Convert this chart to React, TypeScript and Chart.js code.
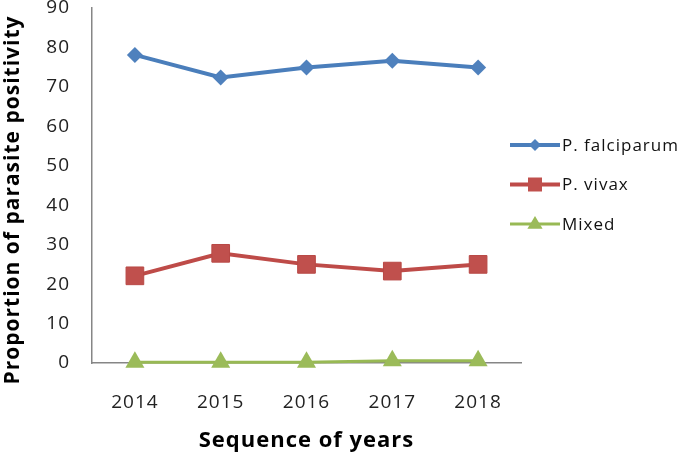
import React, { useEffect, useRef } from "react";
import { Chart, registerables } from "chart.js";

Chart.register(...registerables);

const years = ["2014", "2015", "2016", "2017", "2018"];
const falciparum = [78.1, 72.4, 74.9, 76.6, 74.9];
const vivax = [22.1, 27.8, 25.0, 23.3, 25.0];
const mixed = [0.2, 0.2, 0.2, 0.6, 0.6];
const yTicks = [0, 10, 20, 30, 40, 50, 60, 70, 80, 90];
const xTitle = "Sequence of years";
const yTitle = "Proportion of parasite positivity";

const FONT = "'Open Sans', Lato, sans-serif";

const spacingPlugin = {
  id: "spacing",
  beforeUpdate(chart: any) {
    chart.ctx.letterSpacing = "1px";
  },
  beforeDraw(chart: any) {
    chart.ctx.letterSpacing = "1px";
  },
};

const titlesPlugin = {
  id: "titles",
  afterDraw(chart: any) {
    const ctx = chart.ctx;
    const area = chart.chartArea;
    ctx.save();
    ctx.letterSpacing = "1px";
    ctx.fillStyle = "#000";
    ctx.textAlign = "center";
    ctx.textBaseline = "middle";
    ctx.font = `bold 22px ${FONT}`;
    ctx.fillText(xTitle, (area.left + area.right) / 2, 441);
    ctx.translate(13, 200);
    ctx.rotate(-Math.PI / 2);
    ctx.font = `bold 21px ${FONT}`;
    ctx.fillText(yTitle, 0, 0);
    ctx.restore();
  },
};

const legendPlugin = {
  id: "customLegend",
  afterDraw(chart: any) {
    const ctx = chart.ctx;
    const x0 = 510;
    const yStart = 145;
    const gap = 39.5;
    ctx.save();
    ctx.letterSpacing = "1px";
    chart.data.datasets.forEach((ds: any, i: number) => {
      const y = yStart + i * gap;
      ctx.strokeStyle = ds.borderColor;
      ctx.lineWidth = ds.borderWidth;
      ctx.beginPath();
      ctx.moveTo(x0, y);
      ctx.lineTo(x0 + 50, y);
      ctx.stroke();
      const r = ds.legendRadius;
      const cx = x0 + 25;
      const cy = y;
      ctx.fillStyle = ds.pointBackgroundColor;
      ctx.beginPath();
      if (ds.pointStyle === "rectRot") {
        ctx.moveTo(cx - r, cy);
        ctx.lineTo(cx, cy - r);
        ctx.lineTo(cx + r, cy);
        ctx.lineTo(cx, cy + r);
      } else if (ds.pointStyle === "rect") {
        ctx.rect(cx - r, cy - r, 2 * r, 2 * r);
      } else {
        ctx.moveTo(cx, cy - r);
        ctx.lineTo(cx + r * 0.95, cy + r * 0.6);
        ctx.lineTo(cx - r * 0.95, cy + r * 0.6);
      }
      ctx.closePath();
      ctx.fill();
      ctx.fillStyle = "#111";
      ctx.font = `17px ${FONT}`;
      ctx.textAlign = "left";
      ctx.textBaseline = "middle";
      ctx.fillText(ds.label, x0 + 52, y + 1);
    });
    ctx.restore();
  },
};

export default function App() {
  const ref = useRef<HTMLCanvasElement | null>(null);
  useEffect(() => {
    if (!ref.current) return;
    const chart = new Chart(ref.current, {
      type: "line",
      data: {
        labels: years,
        datasets: [
          {
            label: "P. falciparum",
            data: falciparum,
            borderColor: "#4A7EBB",
            backgroundColor: "#4A7EBB",
            pointBackgroundColor: "#4F81BD",
            pointBorderColor: "#4A7EBB",
            borderWidth: 4,
            pointStyle: "rectRot",
            pointRadius: 8,
            pointBorderWidth: 0,
            legendRadius: 6,
            clip: false,
          } as any,
          {
            label: "P. vivax",
            data: vivax,
            borderColor: "#BE4B48",
            backgroundColor: "#BE4B48",
            pointBackgroundColor: "#C0504D",
            pointBorderColor: "#B84845",
            borderWidth: 4,
            pointStyle: "rect",
            pointRadius: 12.5,
            pointBorderWidth: 1,
            legendRadius: 7,
            clip: false,
          } as any,
          {
            label: "Mixed",
            data: mixed,
            borderColor: "#98B954",
            backgroundColor: "#98B954",
            pointBackgroundColor: "#9BBB59",
            pointBorderColor: "#9BBB59",
            borderWidth: 3,
            pointStyle: "triangle",
            pointRadius: 11,
            pointBorderWidth: 0,
            legendRadius: 8,
            clip: false,
          } as any,
        ],
      },
      options: {
        animation: false,
        responsive: false,
        maintainAspectRatio: false,
        layout: { autoPadding: false, padding: { left: 0, right: 164, top: 0, bottom: 0 } },
        plugins: {
          legend: { display: false },
          tooltip: { enabled: false },
        },
        scales: {
          x: {
            offset: true,
            grid: { display: false, drawTicks: true, tickLength: 28, tickColor: "rgba(0,0,0,0)" },
            border: { color: "#868686", width: 1.5 },
            ticks: {
              color: "#222",
              font: { family: FONT, size: 19 },
              padding: 0,
            },
            afterFit(scale: any) {
              scale.height = 94;
            },
          },
          y: {
            min: 0,
            max: 90,
            afterBuildTicks(axis: any) {
              axis.ticks = yTicks.map((v) => ({ value: v }));
            },
            grid: { display: false, drawTicks: true, tickLength: 22, tickColor: "rgba(0,0,0,0)" },
            border: { color: "#868686", width: 1.5 },
            ticks: {
              color: "#222",
              font: { family: FONT, size: 19, lineHeight: 0.84 },
              padding: 0,
            },
            afterFit(scale: any) {
              scale.width = 92;
            },
          },
        },
      },
      plugins: [spacingPlugin, titlesPlugin, legendPlugin],
    });
    return () => chart.destroy();
  }, []);
  return (
    <div style={{ position: "fixed", left: 0, top: 0, width: 685, height: 457, background: "#fff" }}>
      <canvas ref={ref} width={685} height={457} style={{ width: 685, height: 457 }} />
    </div>
  );
}
